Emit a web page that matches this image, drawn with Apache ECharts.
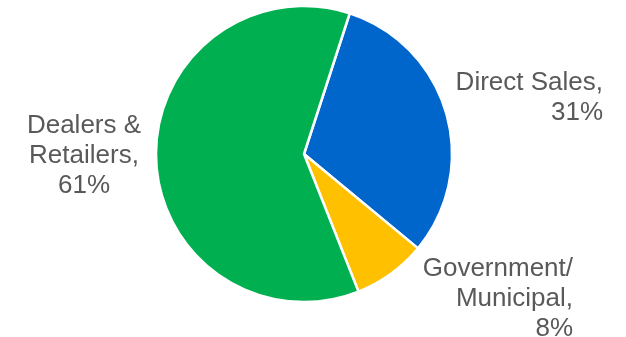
<!DOCTYPE html>
<html><head><meta charset="utf-8">
<script src="https://cdn.jsdelivr.net/npm/echarts@6/dist/echarts.min.js"></script>
<style>html,body{margin:0;padding:0;background:#fff}#c{width:626px;height:337px}</style>
</head><body><div id="c"></div>
<script>
const categories = ['Direct Sales', 'Government/\nMunicipal', 'Dealers &\nRetailers'];
const values = [31, 8, 61];
const colors = ['#0066CC', '#FFC000', '#00B050'];
const labelSpots = [
  {x: 603, y: 98, align: 'right'},
  {x: 573, y: 299, align: 'right'},
  {x: 84, y: 156, align: 'center'}
];
const chart = echarts.init(document.getElementById('c'), null, {renderer: 'canvas'});
chart.setOption({
  animation: false,
  series: [{
    type: 'pie',
    center: [304, 154],
    radius: 148,
    startAngle: 72,
    clockwise: true,
    avoidLabelOverlap: false,
    data: categories.map((n, i) => ({name: n, value: values[i], itemStyle: {color: colors[i]}})),
    itemStyle: {borderColor: '#fff', borderWidth: 2.5},
    label: {
      show: true,
      position: 'outside',
      overflow: 'none',
      formatter: p => p.name + ',\n' + p.value + '%',
      fontFamily: 'Liberation Sans, Arial, sans-serif',
      fontSize: 26,
      lineHeight: 30,
      color: '#595959'
    },
    labelLine: {show: false},
    labelLayout: p => Object.assign({verticalAlign: 'middle'}, labelSpots[p.dataIndex])
  }]
});
</script></body></html>
